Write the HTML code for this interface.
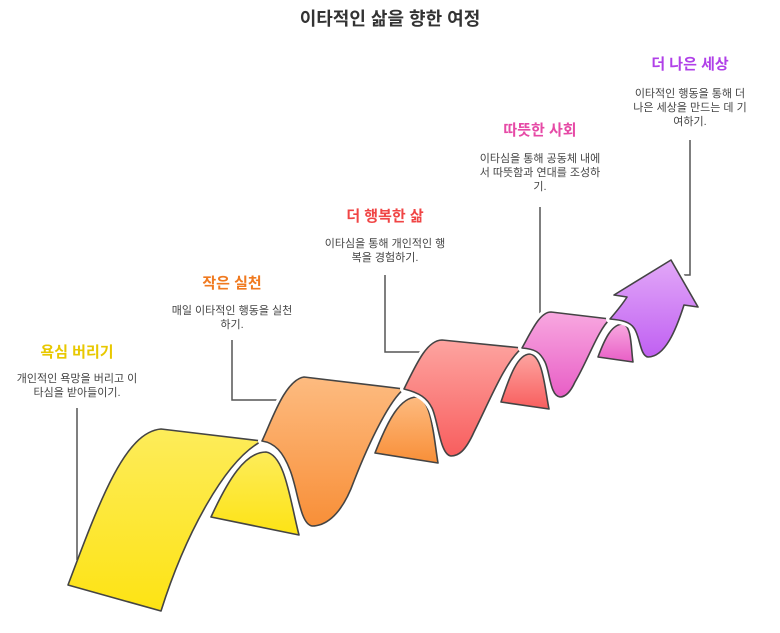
<!DOCTYPE html>
<html><head><meta charset="utf-8"><style>
body{margin:0;background:#fff;width:780px;height:633px;overflow:hidden}
svg{display:block}
text{font-family:"Liberation Sans","Noto Sans CJK KR",sans-serif}
.d{font-size:11px;fill:#444;text-anchor:middle}
.h{font-size:15px;font-weight:bold;text-anchor:middle}
.c{fill:none;stroke:#555;stroke-width:1.5}
.o{stroke:#444;stroke-width:1.6;stroke-linejoin:round}
.w{fill:none;stroke:#fff;stroke-width:8;stroke-linejoin:round}
</style></head><body>
<svg width="780" height="633" viewBox="0 0 780 633">
<defs>
<linearGradient id="gy" x1="0" y1="0" x2="0" y2="1"><stop offset="0" stop-color="#fdec5a"/><stop offset="1" stop-color="#fde314"/></linearGradient>
<linearGradient id="go" x1="0" y1="0" x2="0" y2="1"><stop offset="0" stop-color="#fdbb80"/><stop offset="1" stop-color="#f88f38"/></linearGradient>
<linearGradient id="gr" x1="0" y1="0" x2="0" y2="1"><stop offset="0" stop-color="#fda4a0"/><stop offset="1" stop-color="#f85e5e"/></linearGradient>
<linearGradient id="gp" x1="0" y1="0" x2="0" y2="1"><stop offset="0" stop-color="#f8a8e0"/><stop offset="1" stop-color="#e85ec6"/></linearGradient>
<linearGradient id="gv" x1="0" y1="0" x2="0" y2="1"><stop offset="0" stop-color="#e2a8f8"/><stop offset="1" stop-color="#c060f2"/></linearGradient>
</defs>
<text x="390" y="25" style="font-size:18px;font-weight:bold;fill:#333;text-anchor:middle">이타적인 삶을 향한 여정</text>

<path class="c" d="M77,408 V560"/>
<path class="c" d="M232,340 V400 H290"/>
<path class="c" d="M385,275 V352 H440"/>
<path class="c" d="M540,207 V345"/>
<path class="c" d="M690,140 V275 H676"/>

<path class="o" fill="url(#gy)" d="M68,585 C100,500 125,432 161,429 L262,441 C225,460 185,535 161,611 Z"/>
<path class="o" fill="url(#gy)" d="M211,517 C228,480 245,452 266,452 C285,455 290,500 299,535 Z"/>

<path class="w" d="M304,377 L404,389 C390,400 370,440 354,481 C340,520 322,526 312,526 C300,524 298,490 290,470 C283,452 275,443 262,441 C272,420 285,380 304,377 Z"/>
<path class="o" fill="url(#go)" d="M304,377 L404,389 C390,400 370,440 354,481 C340,520 322,526 312,526 C300,524 298,490 290,470 C283,452 275,443 262,441 C272,420 285,380 304,377 Z"/>
<path class="o" fill="url(#go)" d="M375,453 C388,420 400,397 417,397 C432,399 434,440 438,463 Z"/>

<path class="w" d="M442,340 L522,348 C505,362 490,400 474,432 C465,452 458,456 451,456 C440,455 438,420 432,408 C427,398 420,393 404,389 C418,360 428,340 442,340 Z"/>
<path class="o" fill="url(#gr)" d="M442,340 L522,348 C505,362 490,400 474,432 C465,452 458,456 451,456 C440,455 438,420 432,408 C427,398 420,393 404,389 C418,360 428,340 442,340 Z"/>
<path class="o" fill="url(#gr)" d="M501,402 C510,375 518,354 530,354 C543,356 545,390 549,409 Z"/>

<path class="w" d="M551,312 L610,319 C598,330 588,360 575,382 C570,393 565,397 560,397 C550,396 550,372 545,362 C540,352 535,349 522,348 C532,330 540,312 551,312 Z"/>
<path class="o" fill="url(#gp)" d="M551,312 L610,319 C598,330 588,360 575,382 C570,393 565,397 560,397 C550,396 550,372 545,362 C540,352 535,349 522,348 C532,330 540,312 551,312 Z"/>
<path class="o" fill="url(#gp)" d="M598,357 C605,338 612,324 623,324 C632,326 631,350 633,362 Z"/>

<path class="w" d="M627,297 L614,295 L671,260 L698,307 L684,305 C676,330 665,357 648,357 C640,356 640,336 634,328 C630,322 622,320 610,319 C616,312 622,305 627,297 Z"/>
<path class="o" fill="url(#gv)" d="M627,297 L614,295 L671,260 L698,307 L684,305 C676,330 665,357 648,357 C640,356 640,336 634,328 C630,322 622,320 610,319 C616,312 622,305 627,297 Z"/>

<text class="h" x="77" y="357" fill="#e8c800">욕심 버리기</text>
<text class="d" x="77" y="382">개인적인 욕망을 버리고 이</text>
<text class="d" x="77" y="396">타심을 받아들이기.</text>

<text class="h" x="232" y="288" fill="#f07a20">작은 실천</text>
<text class="d" x="232" y="314">매일 이타적인 행동을 실천</text>
<text class="d" x="232" y="328">하기.</text>

<text class="h" x="385" y="221" fill="#f04545">더 행복한 삶</text>
<text class="d" x="385" y="247">이타심을 통해 개인적인 행</text>
<text class="d" x="385" y="261">복을 경험하기.</text>

<text class="h" x="540" y="135" fill="#e64aa6">따뜻한 사회</text>
<text class="d" x="540" y="162">이타심을 통해 공동체 내에</text>
<text class="d" x="540" y="176">서 따뜻함과 연대를 조성하</text>
<text class="d" x="540" y="190">기.</text>

<text class="h" x="690" y="69" fill="#b040e8">더 나은 세상</text>
<text class="d" x="690" y="97">이타적인 행동을 통해 더</text>
<text class="d" x="690" y="111">나은 세상을 만드는 데 기</text>
<text class="d" x="690" y="125">여하기.</text>
</svg>
</body></html>
